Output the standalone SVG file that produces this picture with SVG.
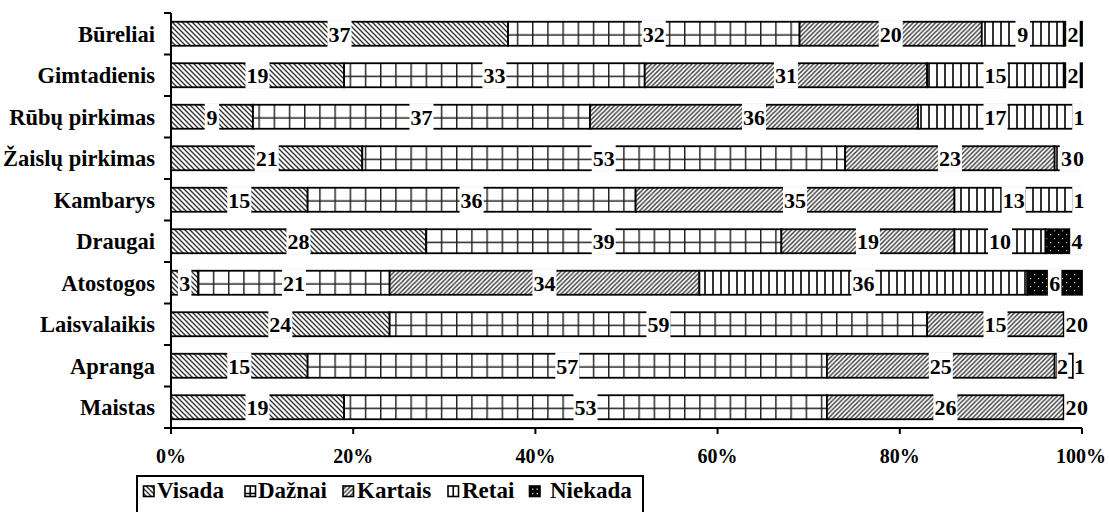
<svg xmlns="http://www.w3.org/2000/svg" width="1109" height="512" viewBox="0 0 1109 512">
<style>
.seg{stroke:#000;stroke-width:1.8}
.v{fill:url(#pV)}.d{fill:url(#pD)}.k{fill:url(#pK)}.r{fill:url(#pR)}.n{fill:url(#pN)}
.lb{fill:#fff}
.dl{font:bold 22px "Liberation Serif","Times New Roman",serif;text-anchor:middle;fill:#000}
.cat{font:bold 22.5px "Liberation Serif","Times New Roman",serif;text-anchor:end;fill:#000}
.ax{font:bold 20px "Liberation Serif","Times New Roman",serif;text-anchor:middle;fill:#000}
.lg{font:bold 23px "Liberation Serif","Times New Roman",serif;fill:#000}
.axl{stroke:#000;stroke-width:2;fill:none}
.ico{stroke:#000;stroke-width:1.6}
</style>
<defs>
<pattern id="pV" patternUnits="userSpaceOnUse" width="5" height="5">
<rect width="5" height="5" fill="#fff"/>
<path d="M0,0 L5,5 M-1,4 L1,6 M4,-1 L6,1" stroke="#333" stroke-width="1.4"/>
</pattern>
<pattern id="pK" patternUnits="userSpaceOnUse" width="4.5" height="4.5">
<rect width="4.5" height="4.5" fill="#fff"/>
<path d="M0,4.5 L4.5,0 M-1,1 L1,-1 M3.5,5.5 L5.5,3.5" stroke="#333" stroke-width="1.4"/>
</pattern>
<pattern id="pD" patternUnits="userSpaceOnUse" x="0" y="13" width="15.2" height="41.5">
<rect width="15.2" height="41.5" fill="#fff"/>
<path d="M0.7,0 V41.5 M0,22 H15.2" stroke="#222" stroke-width="1.5"/>
</pattern>
<pattern id="pR" patternUnits="userSpaceOnUse" width="8" height="8">
<rect width="8" height="8" fill="#fff"/>
<path d="M1,0 V8" stroke="#000" stroke-width="1.6"/>
</pattern>
<pattern id="pN" patternUnits="userSpaceOnUse" width="8" height="8">
<rect width="8" height="8" fill="#000"/>
<rect x="2" y="2" width="1.2" height="1.2" fill="#ccc"/>
<rect x="6" y="6" width="1.2" height="1.2" fill="#ccc"/>
</pattern>
</defs>
<rect width="1109" height="512" fill="#fff"/>

<g id="axes">
<path class="axl" d="M171,13 V428 H1082"/>
<path class="axl" d="M164,13 H171 M164,54.5 H171 M164,96 H171 M164,137.5 H171 M164,179 H171 M164,220.5 H171 M164,262 H171 M164,303.5 H171 M164,345 H171 M164,386.5 H171 M164,428 H171"/>
<path class="axl" d="M171,428 V434 M353.2,428 V434 M535.4,428 V434 M717.6,428 V434 M899.8,428 V434 M1082,428 V434"/>
<text class="ax" x="171" y="463">0%</text>
<text class="ax" x="353.2" y="463">20%</text>
<text class="ax" x="535.4" y="463">40%</text>
<text class="ax" x="717.6" y="463">60%</text>
<text class="ax" x="899.8" y="463">80%</text>
<text class="ax" x="1081" y="463">100%</text>
</g>

<g id="categories">
<text class="cat" x="155" y="41.5">Būreliai</text>
<text class="cat" x="155" y="83">Gimtadienis</text>
<text class="cat" x="155" y="124.5">Rūbų pirkimas</text>
<text class="cat" x="155" y="166">Žaislų pirkimas</text>
<text class="cat" x="155" y="207.5">Kambarys</text>
<text class="cat" x="155" y="249">Draugai</text>
<text class="cat" x="155" y="290.5">Atostogos</text>
<text class="cat" x="155" y="332">Laisvalaikis</text>
<text class="cat" x="155" y="373.5">Apranga</text>
<text class="cat" x="155" y="415">Maistas</text>
</g>

<g id="bars">
<g id="row-bureliai">
<rect class="seg v" x="171" y="21.75" width="337.07" height="24"/>
<rect class="seg d" x="508.07" y="21.75" width="291.52" height="24"/>
<rect class="seg k" x="799.59" y="21.75" width="182.2" height="24"/>
<rect class="seg r" x="981.79" y="21.75" width="81.99" height="24"/>
<rect class="seg n" x="1063.78" y="21.75" width="18.22" height="24"/>
</g>
<g id="row-gimtadienis">
<rect class="seg v" x="171" y="63.25" width="173.09" height="24"/>
<rect class="seg d" x="344.09" y="63.25" width="300.63" height="24"/>
<rect class="seg k" x="644.72" y="63.25" width="282.41" height="24"/>
<rect class="seg r" x="927.13" y="63.25" width="136.65" height="24"/>
<rect class="seg n" x="1063.78" y="63.25" width="18.22" height="24"/>
</g>
<g id="row-rubu">
<rect class="seg v" x="171" y="104.75" width="81.99" height="24"/>
<rect class="seg d" x="252.99" y="104.75" width="337.07" height="24"/>
<rect class="seg k" x="590.06" y="104.75" width="327.96" height="24"/>
<rect class="seg r" x="918.02" y="104.75" width="154.87" height="24"/>
<rect class="seg n" x="1072.89" y="104.75" width="9.11" height="24"/>
</g>
<g id="row-zaislu">
<rect class="seg v" x="171" y="146.25" width="191.31" height="24"/>
<rect class="seg d" x="362.31" y="146.25" width="482.83" height="24"/>
<rect class="seg k" x="845.14" y="146.25" width="209.53" height="24"/>
<rect class="seg r" x="1054.67" y="146.25" width="27.33" height="24"/>
</g>
<g id="row-kambarys">
<rect class="seg v" x="171" y="187.75" width="136.65" height="24"/>
<rect class="seg d" x="307.65" y="187.75" width="327.96" height="24"/>
<rect class="seg k" x="635.61" y="187.75" width="318.85" height="24"/>
<rect class="seg r" x="954.46" y="187.75" width="118.43" height="24"/>
<rect class="seg n" x="1072.89" y="187.75" width="9.11" height="24"/>
</g>
<g id="row-draugai">
<rect class="seg v" x="171" y="229.25" width="255.08" height="24"/>
<rect class="seg d" x="426.08" y="229.25" width="355.29" height="24"/>
<rect class="seg k" x="781.37" y="229.25" width="173.09" height="24"/>
<rect class="seg r" x="954.46" y="229.25" width="91.1" height="24"/>
<rect class="seg n" x="1045.56" y="229.25" width="36.44" height="24"/>
</g>
<g id="row-atostogos">
<rect class="seg v" x="171" y="270.75" width="27.33" height="24"/>
<rect class="seg d" x="198.33" y="270.75" width="191.31" height="24"/>
<rect class="seg k" x="389.64" y="270.75" width="309.74" height="24"/>
<rect class="seg r" x="699.38" y="270.75" width="327.96" height="24"/>
<rect class="seg n" x="1027.34" y="270.75" width="54.66" height="24"/>
</g>
<g id="row-laisvalaikis">
<rect class="seg v" x="171" y="312.25" width="218.64" height="24"/>
<rect class="seg d" x="389.64" y="312.25" width="537.49" height="24"/>
<rect class="seg k" x="927.13" y="312.25" width="136.65" height="24"/>
<rect class="seg r" x="1063.78" y="312.25" width="18.22" height="24"/>
</g>
<g id="row-apranga">
<rect class="seg v" x="171" y="353.75" width="136.65" height="24"/>
<rect class="seg d" x="307.65" y="353.75" width="519.27" height="24"/>
<rect class="seg k" x="826.92" y="353.75" width="227.75" height="24"/>
<rect class="seg r" x="1054.67" y="353.75" width="18.22" height="24"/>
<rect class="seg n" x="1072.89" y="353.75" width="9.11" height="24"/>
</g>
<g id="row-maistas">
<rect class="seg v" x="171" y="395.25" width="173.09" height="24"/>
<rect class="seg d" x="344.09" y="395.25" width="482.83" height="24"/>
<rect class="seg k" x="826.92" y="395.25" width="236.86" height="24"/>
<rect class="seg r" x="1063.78" y="395.25" width="18.22" height="24"/>
</g>
</g>

<g id="label-boxes">
<rect class="lb" x="327.5" y="20.25" width="24" height="27"/>
<rect class="lb" x="641.8" y="20.25" width="24" height="27"/>
<rect class="lb" x="878.7" y="20.25" width="24" height="27"/>
<rect class="lb" x="1015.5" y="20.25" width="14.5" height="27"/>
<rect class="lb" x="1066.2" y="20.25" width="13.5" height="27"/>

<rect class="lb" x="245.5" y="61.75" width="24" height="27"/>
<rect class="lb" x="482.4" y="61.75" width="24" height="27"/>
<rect class="lb" x="773.9" y="61.75" width="24" height="27"/>
<rect class="lb" x="983.5" y="61.75" width="24" height="27"/>
<rect class="lb" x="1066.2" y="61.75" width="13.5" height="27"/>

<rect class="lb" x="204.7" y="103.25" width="14.5" height="27"/>
<rect class="lb" x="409.5" y="103.25" width="24" height="27"/>
<rect class="lb" x="742" y="103.25" width="24" height="27"/>
<rect class="lb" x="983.5" y="103.25" width="24" height="27"/>
<rect class="lb" x="1072.2" y="103.25" width="13.5" height="27"/>

<rect class="lb" x="254.7" y="144.75" width="24" height="27"/>
<rect class="lb" x="591.7" y="144.75" width="24" height="27"/>
<rect class="lb" x="937.9" y="144.75" width="24" height="27"/>
<rect class="lb" x="1059.7" y="144.75" width="13.5" height="27"/>
<rect class="lb" x="1071.7" y="144.75" width="13.5" height="27"/>

<rect class="lb" x="227.3" y="186.25" width="24" height="27"/>
<rect class="lb" x="459.6" y="186.25" width="24" height="27"/>
<rect class="lb" x="783" y="186.25" width="24" height="27"/>
<rect class="lb" x="1001.7" y="186.25" width="24" height="27"/>
<rect class="lb" x="1072.2" y="186.25" width="13.5" height="27"/>

<rect class="lb" x="286.5" y="227.75" width="24" height="27"/>
<rect class="lb" x="591.7" y="227.75" width="24" height="27"/>
<rect class="lb" x="855.9" y="227.75" width="24" height="27"/>
<rect class="lb" x="988" y="227.75" width="24" height="27"/>
<rect class="lb" x="1070.2" y="227.75" width="13.5" height="27"/>

<rect class="lb" x="177.9" y="269.25" width="13.5" height="27"/>
<rect class="lb" x="282" y="269.25" width="24" height="27"/>
<rect class="lb" x="532.5" y="269.25" width="24" height="27"/>
<rect class="lb" x="851.4" y="269.25" width="24" height="27"/>
<rect class="lb" x="1047.9" y="269.25" width="13.5" height="27"/>

<rect class="lb" x="268.3" y="310.75" width="24" height="27"/>
<rect class="lb" x="646.4" y="310.75" width="24" height="27"/>
<rect class="lb" x="983.5" y="310.75" width="24" height="27"/>
<rect class="lb" x="1064.2" y="310.75" width="13.5" height="27"/>
<rect class="lb" x="1075.7" y="310.75" width="13.5" height="27"/>

<rect class="lb" x="227.3" y="352.25" width="24" height="27"/>
<rect class="lb" x="555.3" y="352.25" width="24" height="27"/>
<rect class="lb" x="928.8" y="352.25" width="24" height="27"/>
<rect class="lb" x="1056.8" y="352.25" width="11.5" height="27"/>
<rect class="lb" x="1073.7" y="352.25" width="11.5" height="27"/>

<rect class="lb" x="245.5" y="393.75" width="24" height="27"/>
<rect class="lb" x="573.5" y="393.75" width="24" height="27"/>
<rect class="lb" x="933.4" y="393.75" width="24" height="27"/>
<rect class="lb" x="1064.2" y="393.75" width="13.5" height="27"/>
<rect class="lb" x="1075.7" y="393.75" width="13.5" height="27"/>
</g>

<g id="data-labels">
<text class="dl" x="339.5" y="41.5">37</text>
<text class="dl" x="653.8" y="41.5">32</text>
<text class="dl" x="890.7" y="41.5">20</text>
<text class="dl" x="1022.8" y="41.5">9</text>
<text class="dl" x="1072.9" y="41.5">2</text>

<text class="dl" x="257.5" y="83">19</text>
<text class="dl" x="494.4" y="83">33</text>
<text class="dl" x="785.9" y="83">31</text>
<text class="dl" x="995.5" y="83">15</text>
<text class="dl" x="1072.9" y="83">2</text>

<text class="dl" x="212" y="124.5">9</text>
<text class="dl" x="421.5" y="124.5">37</text>
<text class="dl" x="754" y="124.5">36</text>
<text class="dl" x="995.5" y="124.5">17</text>
<text class="dl" x="1079" y="124.5">1</text>

<text class="dl" x="266.7" y="166">21</text>
<text class="dl" x="603.7" y="166">53</text>
<text class="dl" x="949.9" y="166">23</text>
<text class="dl" x="1066.5" y="166">3</text>
<text class="dl" x="1078.5" y="166">0</text>

<text class="dl" x="239.3" y="207.5">15</text>
<text class="dl" x="471.6" y="207.5">36</text>
<text class="dl" x="795" y="207.5">35</text>
<text class="dl" x="1013.7" y="207.5">13</text>
<text class="dl" x="1079" y="207.5">1</text>

<text class="dl" x="298.5" y="249">28</text>
<text class="dl" x="603.7" y="249">39</text>
<text class="dl" x="867.9" y="249">19</text>
<text class="dl" x="1000" y="249">10</text>
<text class="dl" x="1077" y="249">4</text>

<text class="dl" x="184.7" y="290.5">3</text>
<text class="dl" x="294" y="290.5">21</text>
<text class="dl" x="544.5" y="290.5">34</text>
<text class="dl" x="863.4" y="290.5">36</text>
<text class="dl" x="1054.7" y="290.5">6</text>

<text class="dl" x="280.3" y="332">24</text>
<text class="dl" x="658.4" y="332">59</text>
<text class="dl" x="995.5" y="332">15</text>
<text class="dl" x="1070.9" y="332">2</text>
<text class="dl" x="1082.5" y="332">0</text>

<text class="dl" x="239.3" y="373.5">15</text>
<text class="dl" x="567.3" y="373.5">57</text>
<text class="dl" x="940.8" y="373.5">25</text>
<text class="dl" x="1062.5" y="373.5">2</text>
<text class="dl" x="1079.4" y="373.5">1</text>

<text class="dl" x="257.5" y="415">19</text>
<text class="dl" x="585.5" y="415">53</text>
<text class="dl" x="945.4" y="415">26</text>
<text class="dl" x="1070.9" y="415">2</text>
<text class="dl" x="1082.5" y="415">0</text>
</g>

<g id="legend">
<rect x="137" y="476" width="506" height="50" fill="#fff" stroke="#000" stroke-width="2"/>
<rect class="ico" x="143.5" y="486" width="10.5" height="10.5" fill="url(#pV)"/>
<text class="lg" x="157" y="497.5">Visada</text>
<rect class="ico" x="245" y="486" width="10.5" height="10.5" fill="#fff"/>
<path class="ico" d="M250.25,486 V496.5 M245,493.5 H255.5" fill="none"/>
<text class="lg" x="258" y="497.5">Dažnai</text>
<rect class="ico" x="343" y="486" width="10.5" height="10.5" fill="url(#pK)"/>
<text class="lg" x="357" y="497.5">Kartais</text>
<rect class="ico" x="448" y="486" width="10.5" height="10.5" fill="#fff" stroke-width="2.2"/>
<path class="ico" d="M453.25,486 V496.5" fill="none" stroke-width="2"/>
<text class="lg" x="462" y="497.5">Retai</text>
<rect class="ico" x="529.5" y="486" width="10.5" height="10.5" fill="#000"/>
<rect x="532" y="488.5" width="1.4" height="1.4" fill="#ccc"/>
<rect x="536.5" y="493" width="1.4" height="1.4" fill="#ccc"/>
<rect x="532" y="493" width="1.4" height="1.4" fill="#ccc"/>
<rect x="536.5" y="488.5" width="1.4" height="1.4" fill="#ccc"/>
<text class="lg" x="550" y="497.5">Niekada</text>
</g>
</svg>
